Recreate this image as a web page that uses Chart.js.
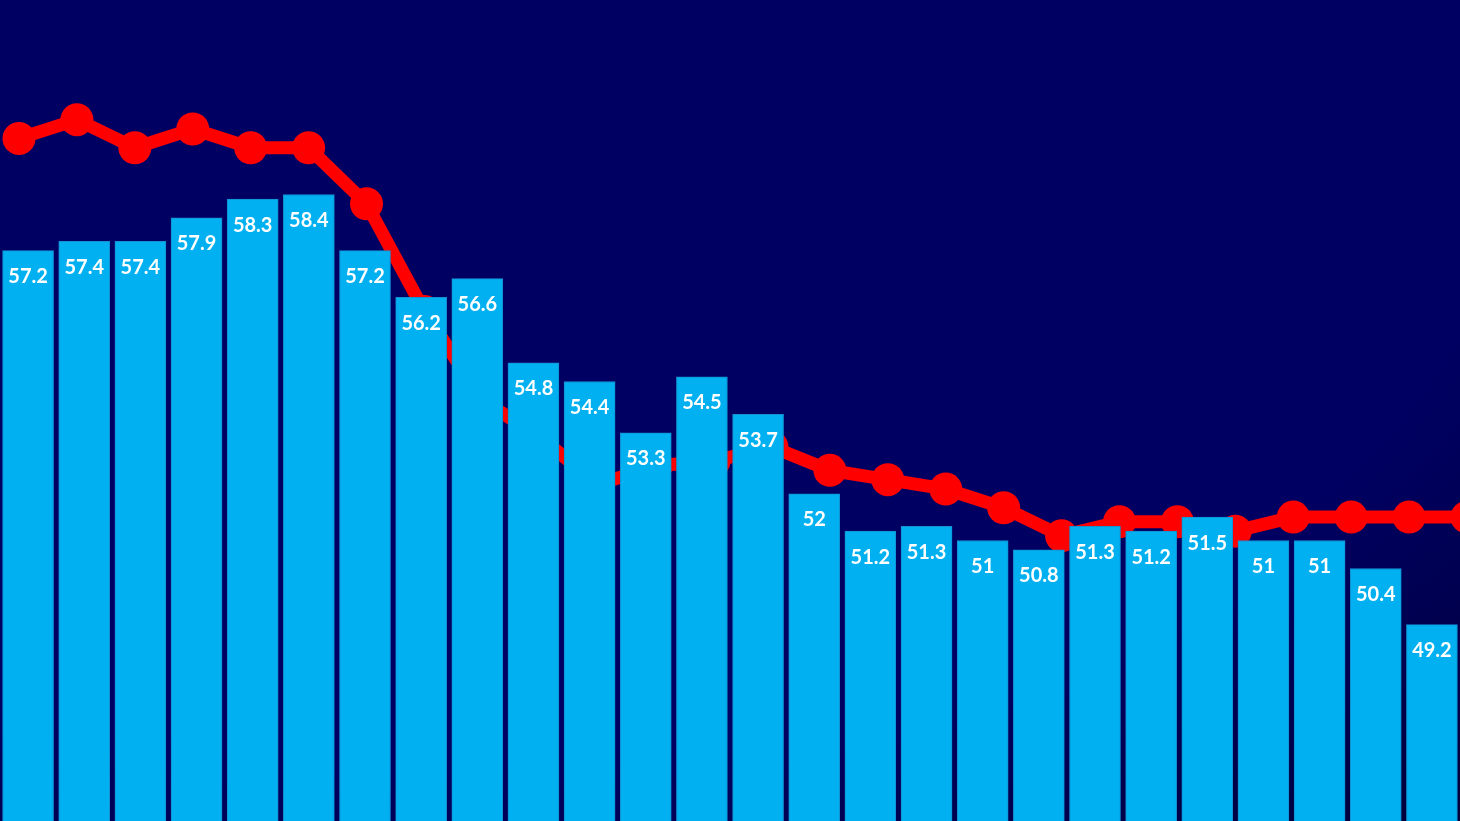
<!DOCTYPE html>
<html>
<head>
<meta charset="utf-8">
<script src="https://cdn.jsdelivr.net/npm/chart.js@4"></script>
<style>
    html, body {
        margin: 0;
        padding: 0;
        width: 1460px;
        height: 821px;
        overflow: hidden;
        background: radial-gradient(ellipse 110% 110% at 30% 20%, #000062 0%, #000062 66%, #000034 100%);
    }
    #wrap {
        position: relative;
        width: 1460px;
        height: 821px;
    }
</style>
</head>
<body>
<div id="wrap"><canvas id="chart"></canvas></div>
<script>
// Bar values (blue) and line values (red)
const categories = ['1', '2', '3', '4', '5', '6', '7', '8', '9', '10', '11', '12', '13',
    '14', '15', '16', '17', '18', '19', '20', '21', '22', '23', '24', '25', '26'];
const barValues = [57.2, 57.4, 57.4, 57.9, 58.3, 58.4, 57.2, 56.2, 56.6, 54.8, 54.4, 53.3, 54.5,
    53.7, 52, 51.2, 51.3, 51, 50.8, 51.3, 51.2, 51.5, 51, 51, 50.4, 49.2];
const lineValues = [59.6, 60.0, 59.4, 59.8, 59.4, 59.4, 58.2, 55.9, 54.0, 53.2, 52.2, 52.6, 52.7,
    53.0, 52.5, 52.3, 52.1, 51.7, 51.1, 51.4, 51.4, 51.2, 51.5, 51.5, 51.5, 51.5];

const Y_MIN = 45;
const Y_MAX = 62.56;

// Value labels inside the top of each bar
const barLabels = {
    id: 'barLabels',
    afterDatasetsDraw(chart) {
        const ctx = chart.ctx;
        const meta = chart.getDatasetMeta(0);
        ctx.save();
        ctx.fillStyle = '#ffffff';
        ctx.font = 'bold 20px Lato';
        ctx.textAlign = 'center';
        ctx.textBaseline = 'middle';
        meta.data.forEach((bar, i) => {
            ctx.fillText(String(barValues[i]), bar.x, bar.y + 26);
        });
        ctx.restore();
    }
};

const ctx = document.getElementById('chart').getContext('2d');
new Chart(ctx, {
    data: {
        labels: categories,
        datasets: [{
            type: 'bar',
            data: barValues,
            backgroundColor: '#00B0F0',
            borderColor: '#1490D0',
            borderWidth: 1,
            barThickness: 51,
            grouped: false,
            xAxisID: 'x',
            yAxisID: 'y',
            order: 0
        }, {
            type: 'line',
            data: lineValues.map((v, i) => ({ x: i, y: v })),
            borderColor: '#FF0000',
            backgroundColor: '#FF0000',
            borderWidth: 13,
            pointRadius: 16.5,
            pointBorderWidth: 0,
            pointBackgroundColor: '#FF0000',
            tension: 0,
            xAxisID: 'x2',
            yAxisID: 'y',
            clip: false,
            order: 1
        }]
    },
    options: {
        responsive: true,
        maintainAspectRatio: false,
        animation: false,
        layout: { padding: 0, autoPadding: false },
        plugins: {
            legend: { display: false },
            tooltip: { enabled: false }
        },
        scales: {
            x: {
                type: 'category',
                display: false,
                offset: true
            },
            x2: {
                type: 'linear',
                display: false,
                min: -0.328,
                max: 24.879
            },
            y: {
                display: false,
                min: Y_MIN,
                max: Y_MAX
            }
        }
    },
    plugins: [barLabels]
});
</script>
</body>
</html>
